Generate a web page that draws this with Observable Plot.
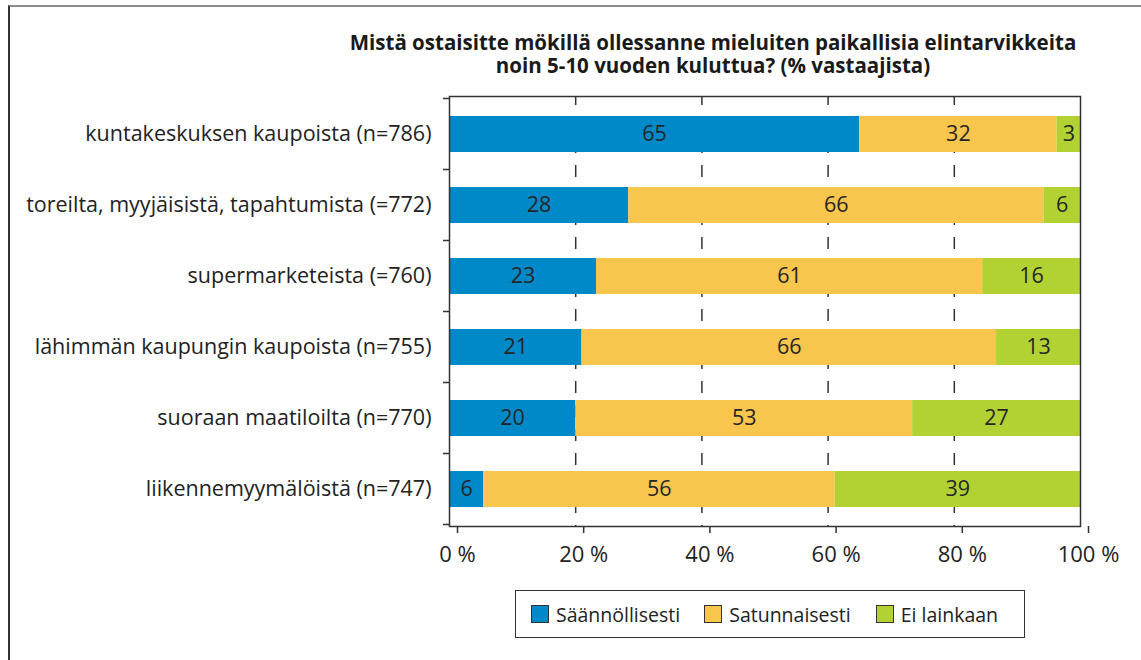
<!DOCTYPE html>
<html>
<head>
<meta charset="utf-8">
<script src="https://cdn.jsdelivr.net/npm/d3@7"></script>
<script src="https://cdn.jsdelivr.net/npm/@observablehq/plot@0.6"></script>
<style>
  html, body { margin: 0; padding: 0; background: #fff; }
  #wrap { position: relative; width: 1141px; height: 660px; overflow: hidden; font-family: "Open Sans", sans-serif; color: #222; }
  #frame { position: absolute; left: 8px; top: 5px; width: 1140px; height: 660px; border-top: 2px solid #8c8c8c; border-left: 2px solid #333; }
  #title { position: absolute; left: 263px; width: 900px; top: 31px; text-align: center; font-weight: bold; font-size: 20.5px; line-height: 23px; color: #1a1a1a; }
  #title div { white-space: nowrap; }
  #chart { position: absolute; left: 0; top: 0; }
  #legend { position: absolute; left: 515px; top: 590px; width: 508px; height: 46px; border: 1px solid #333; display: flex; align-items: center; font-size: 19.5px; color: #222; }
  .item { display: flex; align-items: center; }
  .sw { width: 16px; height: 16px; border: 1px solid #333; margin-right: 7px; }
</style>
</head>
<body>
<div id="wrap">
  <div id="frame"></div>
  <div id="chart"></div>
  <div id="title"></div>
  <div id="legend"></div>
</div>
<script>
const title = ["Mistä ostaisitte mökillä ollessanne mieluiten paikallisia elintarvikkeita", "noin 5-10 vuoden kuluttua? (% vastaajista)"];
const categories = [
  "kuntakeskuksen kaupoista (n=786)",
  "toreilta, myyjäisistä, tapahtumista (=772)",
  "supermarketeista (=760)",
  "lähimmän kaupungin kaupoista (n=755)",
  "suoraan maatiloilta (n=770)",
  "liikennemyymälöistä (n=747)"
];
const series = ["Säännöllisesti", "Satunnaisesti", "Ei lainkaan"];
const colors = ["#0089c9", "#f8c54d", "#b2d234"];
// bar lengths (%)
const saannollisesti = [65.0, 28.4, 23.3, 21.0, 20.0, 5.4];
const satunnaisesti = [31.3, 65.8, 61.2, 65.7, 53.4, 55.7];
const eiLainkaan = [3.7, 5.8, 15.5, 13.3, 26.6, 38.9];
// printed labels
const labSaannollisesti = [65, 28, 23, 21, 20, 6];
const labSatunnaisesti = [32, 66, 61, 66, 53, 56];
const labEiLainkaan = [3, 6, 16, 13, 27, 39];
const xTicks = [0, 20, 40, 60, 80, 100];
const gridTicks = [20, 40, 60, 80];

const values = [saannollisesti, satunnaisesti, eiLainkaan];
const labels = [labSaannollisesti, labSatunnaisesti, labEiLainkaan];
const data = [];
categories.forEach((c, i) => series.forEach((s, j) => data.push({cat: c, series: s, value: values[j][i], label: labels[j][i]})));

const t = document.getElementById("title");
title.forEach(line => { const d = document.createElement("div"); d.textContent = line; t.appendChild(d); });

const W = 1141, H = 660, mL = 449, mR = 61, mT = 96, mB = 134;
const plot = Plot.plot({
  width: W, height: H,
  marginLeft: mL, marginRight: mR, marginTop: mT, marginBottom: mB,
  style: {fontFamily: "Open Sans, sans-serif", fontSize: "21px", color: "#222", background: "transparent", overflow: "visible"},
  x: {domain: [0, 100], ticks: xTicks},
  y: {domain: categories, paddingInner: 0.5, paddingOuter: 0.25},
  color: {domain: series, range: colors},
  marks: [
    Plot.gridX(gridTicks, {stroke: "#333", strokeOpacity: 1, strokeWidth: 1.5, strokeDasharray: "12,12", strokeDashoffset: 3}),
    Plot.barX(data, Plot.stackX({x: "value", y: "cat", fill: "series", order: series, inset: 0})),
    Plot.text(data, Plot.stackX({x: "value", y: "cat", z: "series", order: series, text: "label", fill: "#262626", fontSize: 21.5})),
    Plot.frame({stroke: "#333", strokeWidth: 1.5}),
    Plot.axisX({ticks: xTicks, tickFormat: d => d + " %", tickSize: 7, tickPadding: 13, dx: 8, stroke: "#333", strokeWidth: 1.5, fill: "#222", fontSize: 22, label: null}),
    Plot.axisY({tickSize: 0, tickPadding: 18, fill: "#222", fontSize: 21.5, label: null})
  ]
});
document.getElementById("chart").appendChild(plot);

// outward tick marks at the category boundaries of the y band scale
const ys = plot.scale("y");
const starts = categories.map(c => ys.apply(c));
const step = starts[1] - starts[0];
const gap = step - ys.bandwidth;
const bounds = starts.map(s => s - gap / 2).concat([starts[starts.length - 1] + ys.bandwidth + gap / 2]);
const x0 = plot.scale("x").apply(0);
d3.select(plot).append("g").selectAll("line").data(bounds).join("line")
  .attr("x1", x0 - 6).attr("x2", x0).attr("y1", d => d).attr("y2", d => d)
  .attr("stroke", "#333").attr("stroke-width", 1.5);

const lg = document.getElementById("legend");
const gaps = [15, 24, 25];
series.forEach((s, j) => {
  const it = document.createElement("div");
  it.className = "item";
  it.style.marginLeft = gaps[j] + "px";
  it.innerHTML = `<div class="sw" style="background:${colors[j]}"></div><span>${s}</span>`;
  lg.appendChild(it);
});
</script>
</body>
</html>
